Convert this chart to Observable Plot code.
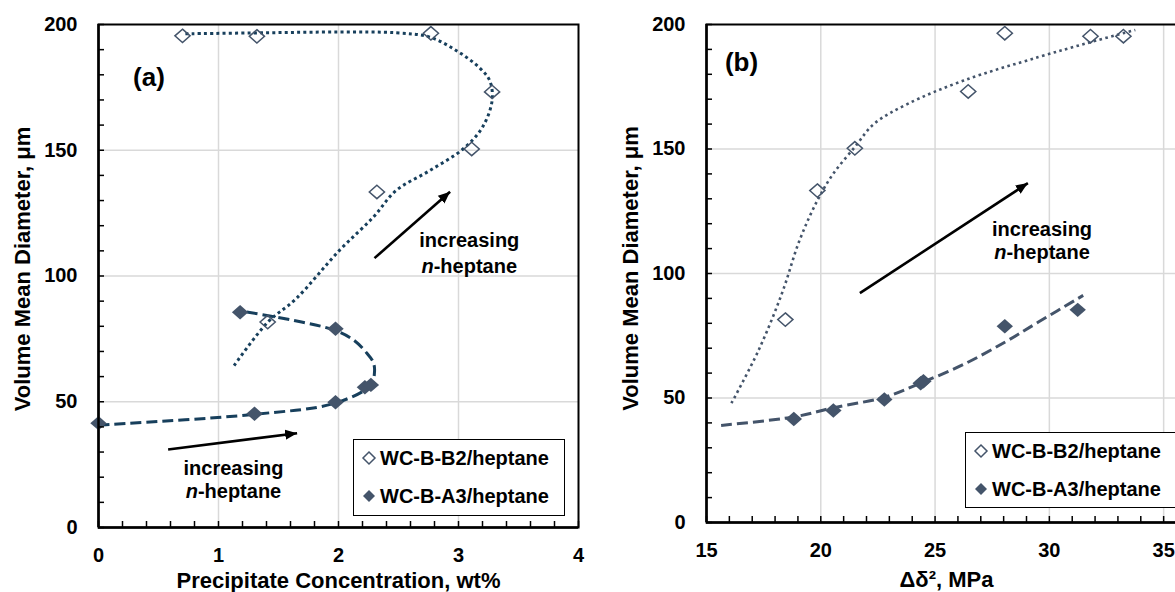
<!DOCTYPE html>
<html><head><meta charset="utf-8">
<script src="https://cdn.jsdelivr.net/npm/d3@7"></script>
<script src="https://cdn.jsdelivr.net/npm/@observablehq/plot@0.6"></script>
<style>
html,body{margin:0;padding:0;background:#fff;overflow:hidden;}
#wrap{position:relative;width:1175px;height:592px;overflow:hidden;font-family:"Liberation Sans",Arial,sans-serif;}
.panel{position:absolute;top:0;}
.legend{position:absolute;background:#fff;border:1.5px solid #000;box-sizing:border-box;font-weight:bold;font-size:20px;color:#000;}
.legend .row{position:absolute;white-space:nowrap;line-height:24px;height:24px;}
.legend svg{position:absolute;}
</style></head><body><div id="wrap"></div>
<script>
// ---------- Data ----------
const seriesNames = ["WC-B-B2/heptane", "WC-B-A3/heptane"];

// Panel (a): precipitate concentration (wt%) vs volume mean diameter (µm)
const concB2 = [0.70, 1.32, 2.77, 3.28, 3.11, 2.32, 1.41];
const diamB2a = [195.5, 195.3, 196.5, 173.2, 150.5, 133.4, 81.7];
const concA3 = [0.00, 1.30, 1.975, 2.22, 2.27, 1.975, 1.18];
const diamA3a = [41.5, 45.2, 49.8, 55.8, 56.7, 79.0, 85.6];

// Trend curves
const trendB2aX = [1.13, 1.41, 1.645, 2.006, 2.29, 2.48, 2.76, 3.04, 3.20, 3.28, 3.26, 3.17, 2.98, 2.76, 2.48, 2.00, 1.38, 0.70];
const trendB2aY = [64.4, 81.6, 90.9, 110.1, 123.4, 134.0, 141.9, 150.6, 159.2, 169.8, 177.7, 183.0, 189.7, 195.0, 196.7, 197.0, 196.7, 196.3];
const trendA3aX = [0.00, 1.30, 1.975, 2.27, 2.30, 2.29, 2.24, 2.13, 1.975, 1.63, 1.18];
const trendA3aY = [40.7, 45.0, 49.5, 56.7, 61.8, 65.7, 69.1, 74.4, 78.3, 82.3, 86.1];

// Panel (b): Δδ² (MPa) vs volume mean diameter (µm)
const deltaB2 = [18.45, 19.85, 21.49, 26.45, 28.05, 31.80, 33.24];
const diamB2b = [81.5, 133.3, 150.3, 173.1, 196.5, 195.3, 195.3];
const deltaA3 = [18.82, 20.55, 22.78, 24.37, 24.49, 28.05, 31.24];
const diamA3b = [41.6, 45.0, 49.4, 55.9, 56.7, 78.8, 85.4];

const trendB2bX = [16.09, 17.27, 18.30, 19.07, 19.85, 20.54, 21.49, 22.33, 23.80, 26.25, 29.52, 31.80, 33.76];
const trendB2bY = [47.9, 69.0, 92.0, 113.3, 129.3, 140.0, 150.8, 160.1, 168.1, 177.5, 186.9, 192.9, 197.8];
const trendA3bX = [15.64, 18.82, 20.55, 22.78, 24.37, 26.25, 28.05, 29.52, 31.48];
const trendA3bY = [39.0, 42.4, 46.1, 50.3, 56.0, 63.5, 72.4, 80.5, 91.2];

// Tick labels
const xTicksA = [0, 1, 2, 3, 4];
const xTicksB = [15, 20, 25, 30, 35];
const yTicks = [0, 50, 100, 150, 200];

// Annotations
const annA = [{x: 3.09, y1: 114.1, y2: 103.8}, {x: 1.125, y1: 23.6, y2: 14.3}];
const arrowsA = [{x1: 2.30, y1: 107.1, x2: 2.93, y2: 133.5}, {x1: 0.58, y1: 31.0, x2: 1.655, y2: 37.5}];
const annB = [{x: 29.68, y1: 117.5, y2: 108.3}];
const arrowsB = [{x1: 21.71, y1: 92.1, x2: 29.06, y2: 136.3}];

// ---------- Styles ----------
const FONT = '"Liberation Sans", Arial, sans-serif';
const markerColor = "#44546a";
const lineColorA = "#173f5c";
const lineColorB = "#44546a";

const diamondSym = {
  draw(ctx, size) {
    const r = Math.sqrt(size / Math.PI);
    const h = r * 0.88;
    ctx.moveTo(0, -h); ctx.lineTo(r, 0); ctx.lineTo(0, h); ctx.lineTo(-r, 0); ctx.closePath();
  }
};

function arrowHead(color) {
  const m = d3.create("svg:marker")
    .attr("viewBox", "-10 -5 10 10")
    .attr("refX", 0).attr("refY", 0)
    .attr("markerWidth", 4.6).attr("markerHeight", 4.6)
    .attr("orient", "auto")
    .attr("fill", color).attr("stroke", "none");
  m.append("path").attr("d", "M-10,-4.2L0,0L-10,4.2Z");
  return m.node();
}

function nHeptane(data, opts) {
  return [
    Plot.text(data, {x: "x", y: "y2", text: () => "n", textAnchor: "end", dx: -35.6, fontStyle: "italic", fontSize: 20, fontWeight: "bold", fill: "black", ...opts}),
    Plot.text(data, {x: "x", y: "y2", text: () => "-heptane", textAnchor: "start", dx: -35.6, fontSize: 20, fontWeight: "bold", fill: "black", ...opts})
  ];
}

function panel(cfg, marker) {
  const idx = (arr) => d3.range(arr.length);
  return Plot.plot({
    width: cfg.width, height: 592,
    marginLeft: cfg.ml, marginRight: cfg.mr, marginTop: 24, marginBottom: cfg.mb,
    style: {fontFamily: FONT, fontWeight: "bold", background: "white", overflow: "visible"},
    x: {domain: cfg.xdomain, axis: null},
    y: {domain: [0, 200], axis: null},
    marks: [
      Plot.gridX({ticks: cfg.grid, stroke: "#d9d9d9", strokeOpacity: 1, strokeWidth: 1.5}),
      Plot.gridY({ticks: [50, 100, 150], stroke: "#d9d9d9", strokeOpacity: 1, strokeWidth: 1.5}),
      Plot.frame({stroke: "black", strokeWidth: 2}),
      // trend lines
      Plot.line(idx(cfg.tB2x), {x: i => cfg.tB2x[i], y: i => cfg.tB2y[i], curve: "catmull-rom", stroke: cfg.lineColor, strokeWidth: cfg.dotW, strokeDasharray: cfg.dotDash, strokeLinecap: "butt"}),
      Plot.line(idx(cfg.tA3x), {x: i => cfg.tA3x[i], y: i => cfg.tA3y[i], curve: "catmull-rom", stroke: cfg.lineColor, strokeWidth: 3, strokeDasharray: "11,5", strokeLinecap: "butt"}),
      // points
      Plot.dot(idx(cfg.b2x), {x: i => cfg.b2x[i], y: i => cfg.b2y[i], symbol: diamondSym, r: 7.6, stroke: markerColor, strokeWidth: 1.5, fill: "none"}),
      Plot.dot(idx(cfg.a3x), {x: i => cfg.a3x[i], y: i => cfg.a3y[i], symbol: diamondSym, r: 8.2, fill: markerColor, stroke: "none"}),
      // arrows
      Plot.link(cfg.arrows, {x1: "x1", y1: "y1", x2: "x2", y2: "y2", stroke: "black", strokeWidth: 2.6, markerEnd: marker}),
      // annotation text
      Plot.text(cfg.ann, {x: "x", y: "y1", text: () => "increasing", fontSize: 20, fontWeight: "bold", fill: "black"}),
      ...nHeptane(cfg.ann),
      Plot.text([cfg.tag], {x: () => cfg.tagX, y: () => cfg.tagY, text: d => d, fontSize: 26, fontWeight: "bold", fill: "black"}),
      // axes
      Plot.axisX({ticks: cfg.xticks, tickSize: 0, tickPadding: 20, tickFormat: d => String(d), fontSize: 20, fontWeight: "bold", label: null}),
      Plot.axisX({ticks: cfg.xminor, tickSize: 6, dy: -6, text: null, label: null, strokeWidth: 1.5}),
      Plot.axisY({ticks: yTicks, tickSize: 0, tickPadding: 21, tickFormat: d => String(d), fontSize: 20, fontWeight: "bold", label: null}),
      Plot.axisY({ticks: d3.range(0, 201, 10), tickSize: 6, dx: 6, text: null, label: null, strokeWidth: 1.5}),
      Plot.ruleX([cfg.xdomain[0]], {stroke: "black", strokeWidth: 2.5}),
      Plot.ruleY([0], {stroke: "black", strokeWidth: 2.5}),
      // axis titles
      Plot.text([cfg.xtitle], {text: d => d, frameAnchor: "bottom", textAnchor: "middle", lineAnchor: "middle", dy: cfg.xtDy, fontSize: 22, fontWeight: "bold", fill: "black"}),
      Plot.text(["Volume Mean Diameter, μm"], {text: d => d, frameAnchor: "left", textAnchor: "middle", lineAnchor: "middle", rotate: -90, dx: -75.5, dy: cfg.ytDy, fontSize: 22, fontWeight: "bold", fill: "black"})
    ]
  });
}

const cfgA = {
  width: 590, ml: 98, mr: 12, mb: 65, xdomain: [0, 4], grid: [1, 2, 3],
  xticks: xTicksA, xminor: d3.range(0, 21).map(i => i / 5),
  tB2x: trendB2aX, tB2y: trendB2aY, tA3x: trendA3aX, tA3y: trendA3aY,
  b2x: concB2, b2y: diamB2a, a3x: concA3, a3y: diamA3a,
  lineColor: lineColorA, dotW: 3, dotDash: "3,3.2",
  arrows: arrowsA, ann: annA, tag: "(a)", tagX: 0.42, tagY: 178.7,
  xtitle: "Precipitate Concentration, wt%", xtDy: 53.5, ytDy: -7
};
const cfgB = {
  width: 606, ml: 116, mr: 10, mb: 70, xdomain: [15, 36], grid: [20, 25, 30, 35],
  xticks: xTicksB, xminor: d3.range(15, 37),
  tB2x: trendB2bX, tB2y: trendB2bY, tA3x: trendA3bX, tA3y: trendA3bY,
  b2x: deltaB2, b2y: diamB2b, a3x: deltaA3, a3y: diamA3b,
  lineColor: lineColorB, dotW: 2.6, dotDash: "2.6,3.4",
  arrows: arrowsB, ann: annB, tag: "(b)", tagX: 16.53, tagY: 184.5,
  xtitle: "Δδ², MPa", xtDy: 57, ytDy: -5
};

function build(marker) {
  return [panel(cfgA, marker), panel(cfgB, marker)];
}
let charts;
try { charts = build(arrowHead); } catch (e) { charts = build("arrow"); }

const wrap = document.getElementById("wrap");
charts.forEach((c, i) => {
  c.classList.add("panel");
  c.style.left = i === 0 ? "0px" : "590px";
  wrap.appendChild(c);
});

// Legends
function legend(left, top, width, height) {
  const box = document.createElement("div");
  box.className = "legend";
  Object.assign(box.style, {left: left + "px", top: top + "px", width: width + "px", height: height + "px"});
  seriesNames.forEach((name, i) => {
    const cy = i === 0 ? 18 : 56;
    const s = document.createElementNS("http://www.w3.org/2000/svg", "svg");
    s.setAttribute("width", 16); s.setAttribute("height", 16);
    s.style.left = "7px"; s.style.top = (cy - 8) + "px";
    const p = document.createElementNS("http://www.w3.org/2000/svg", "path");
    p.setAttribute("d", "M8,2L14,8L8,14L2,8Z");
    if (i === 0) { p.setAttribute("fill", "white"); p.setAttribute("stroke", markerColor); p.setAttribute("stroke-width", "1.5"); }
    else { p.setAttribute("fill", markerColor); }
    s.appendChild(p);
    box.appendChild(s);
    const t = document.createElement("div");
    t.className = "row";
    t.textContent = name;
    t.style.left = "26px"; t.style.top = (cy - 12) + "px";
    box.appendChild(t);
  });
  wrap.appendChild(box);
}
legend(353, 439, 212, 77);
legend(965, 432, 240, 76);
</script>
</body></html>
